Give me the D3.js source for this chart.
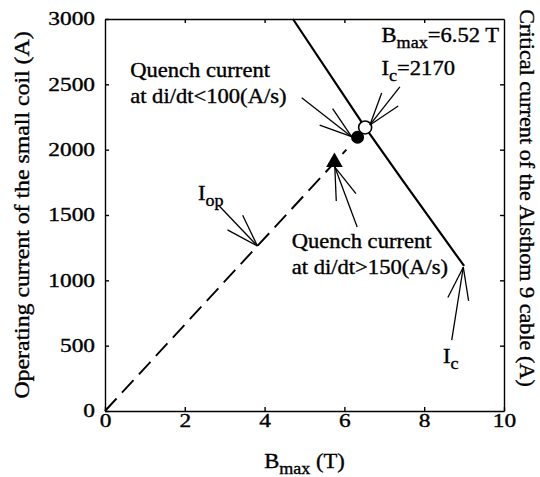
<!DOCTYPE html>
<html>
<head>
<meta charset="utf-8">
<script src="https://cdn.jsdelivr.net/npm/d3@7"></script>
<style>
  body { margin: 0; background: #fff; }
</style>
</head>
<body>
<div id="chart"></div>
<script>
// ---- data ----
var x_ticks = [0, 2, 4, 6, 8, 10];
var y_ticks = [0, 500, 1000, 1500, 2000, 2500, 3000];

// critical current line of the cable (B in T, I in A)
var ic_B = [4.71, 6.52, 7.45, 9.0];
var ic_I = [3000, 2170, 1768, 1110];

// operating current load line (dashed)
var iop_B = [0, 6.05];
var iop_I = [0, 2000];

var quench_slow = [6.33, 2095];   // filled circle, di/dt<100
var quench_fast = [5.75, 1905];   // triangle, di/dt>150
var crossing = [6.52, 2170];      // open circle, Bmax=6.52 T

// arrows: [tail B, tail I, tip B, tip I]
var arrows = [
  [2.84, 1576, 3.82, 1263],
  [6.32, 1408, 5.76, 1867],
  [4.93, 2398, 6.18, 2099],
  [7.39, 2480, 6.64, 2189],
  [8.69, 543, 8.98, 1100]
];

// labels: [B, I, parts]  ('_' prefix = subscript)
var labels = [
  [6.93, 2826, ['B', '_max', '=6.52 T']],
  [6.93, 2571, ['I', '_c', '=2170']],
  [0.63, 2556, ['Quench current']],
  [0.63, 2357, ['at di/dt<100(A/s)']],
  [4.68, 1247, ['Quench current']],
  [4.68, 1048, ['at di/dt>150(A/s)']],
  [2.33, 1615, ['I', '_op']],
  [8.47, 367, ['I', '_c']]
];

// ---- layout ----
const width = 540, height = 477;
const plot_left = 105, plot_right = 504, plot_top = 19, plot_bottom = 411;
const serif = '"Liberation Serif", "Times New Roman", Times, serif';
const txt_sx = 1.13;
const tick_sx = 1.3;

var svg = d3.select('#chart').append('svg')
  .attr('width', width)
  .attr('height', height)
  .attr('font-family', serif);

var x = d3.scaleLinear().domain([0, 10]).range([plot_left, plot_right]);
var y = d3.scaleLinear().domain([0, 3000]).range([plot_bottom, plot_top]);

function add_text(parent, px, py, parts, size, sx, anchor, rot) {
  var t = parent.append('text')
    .attr('transform', `translate(${px},${py}) rotate(${rot || 0}) scale(${sx},1)`)
    .attr('font-size', size)
    .attr('font-family', serif)
    .attr('fill', '#000')
    .attr('stroke', '#000')
    .attr('stroke-width', 0.35)
    .attr('text-anchor', anchor || 'start');
  var shift = 0;
  parts.forEach(function(p){
    var sub = p[0] === '_';
    var target = sub ? size * 0.32 : 0;
    t.append('tspan')
      .attr('dy', target - shift)
      .attr('font-size', sub ? size * 0.8 : null)
      .text(sub ? p.slice(1) : p);
    shift = target;
  });
  return t;
}

// axes (ticks inward on all four sides)
var ax_bottom = svg.append('g')
  .attr('transform', `translate(0,${plot_bottom})`)
  .call(d3.axisBottom(x).tickValues(x_ticks).tickFormat(d3.format('d'))
    .tickSizeInner(-4).tickSizeOuter(0).tickPadding(3));
var ax_left = svg.append('g')
  .attr('transform', `translate(${plot_left},0)`)
  .call(d3.axisLeft(y).tickValues(y_ticks).tickFormat(d3.format('d'))
    .tickSizeInner(-4).tickSizeOuter(0).tickPadding(10));
svg.append('g')
  .attr('transform', `translate(0,${plot_top})`)
  .call(d3.axisTop(x).tickValues(x_ticks.slice(1, -1)).tickSizeInner(-4).tickSizeOuter(0).tickFormat(''));
svg.append('g')
  .attr('transform', `translate(${plot_right},0)`)
  .call(d3.axisRight(y).tickValues(y_ticks.slice(1, -1)).tickSizeInner(-4).tickSizeOuter(0).tickFormat(''));

svg.selectAll('g').attr('font-family', serif);
svg.selectAll('.domain, .tick line').attr('stroke', '#000').attr('stroke-width', 1.4);

ax_bottom.selectAll('text')
  .attr('font-size', 18)
  .attr('fill', '#000')
  .attr('stroke', '#000').attr('stroke-width', 0.35)
  .attr('transform', `scale(${tick_sx},1)`);
ax_left.selectAll('text')
  .attr('font-size', 18)
  .attr('fill', '#000')
  .attr('stroke', '#000').attr('stroke-width', 0.35)
  .attr('x', -10 / tick_sx)
  .attr('dy', '0.33em')
  .attr('transform', `scale(${tick_sx},1)`);

// axis titles
add_text(svg, (plot_left + plot_right) / 2, 468, ['B', '_max', ' (T)'], 20, txt_sx, 'middle');
add_text(svg, 29, (plot_top + plot_bottom) / 2, ['Operating current of the small coil (A)'], 20, 1.19, 'middle', -90);
add_text(svg, 520, 198, ['Critical current of the Alsthom 9 cable (A)'], 20, 1.11, 'middle', 90);

// critical current line
var line = d3.line()
  .x(function(d){ return x(d[0]); })
  .y(function(d){ return y(d[1]); });

svg.append('path')
  .datum(d3.zip(ic_B, ic_I))
  .attr('d', line)
  .attr('fill', 'none')
  .attr('stroke', '#000')
  .attr('stroke-width', 2.2);

// operating current line
svg.append('path')
  .datum(d3.zip(iop_B, iop_I))
  .attr('d', line)
  .attr('fill', 'none')
  .attr('stroke', '#000')
  .attr('stroke-width', 1.9)
  .attr('stroke-dasharray', '17,8');

// markers
svg.append('circle')
  .attr('cx', x(quench_slow[0])).attr('cy', y(quench_slow[1])).attr('r', 6.5)
  .attr('fill', '#000');
svg.append('circle')
  .attr('cx', x(crossing[0])).attr('cy', y(crossing[1])).attr('r', 6.5)
  .attr('fill', '#fff').attr('stroke', '#000').attr('stroke-width', 1.6);
svg.append('path')
  .attr('d', d3.symbol().type(d3.symbolTriangle).size(120)())
  .attr('transform', `translate(${x(quench_fast[0])},${y(quench_fast[1])})`)
  .attr('fill', '#000');

// arrows
var barb_len = 34, barb_ang = 18 * Math.PI / 180;
arrows.forEach(function(a){
  var x0 = x(a[0]), y0 = y(a[1]), x1 = x(a[2]), y1 = y(a[3]);
  var ang = Math.atan2(y0 - y1, x0 - x1);
  var segs = [[x0, y0]];
  [-barb_ang, barb_ang].forEach(function(da){
    segs.push([x1 + barb_len * Math.cos(ang + da), y1 + barb_len * Math.sin(ang + da)]);
  });
  var g = svg.append('g').attr('stroke', '#000').attr('stroke-width', 1.3);
  segs.forEach(function(s){
    g.append('line')
      .attr('x1', s[0]).attr('y1', s[1])
      .attr('x2', x1).attr('y2', y1);
  });
});

// annotation texts
labels.forEach(function(l){
  add_text(svg, x(l[0]), y(l[1]), l[2], 20, txt_sx);
});
</script>
</body>
</html>
